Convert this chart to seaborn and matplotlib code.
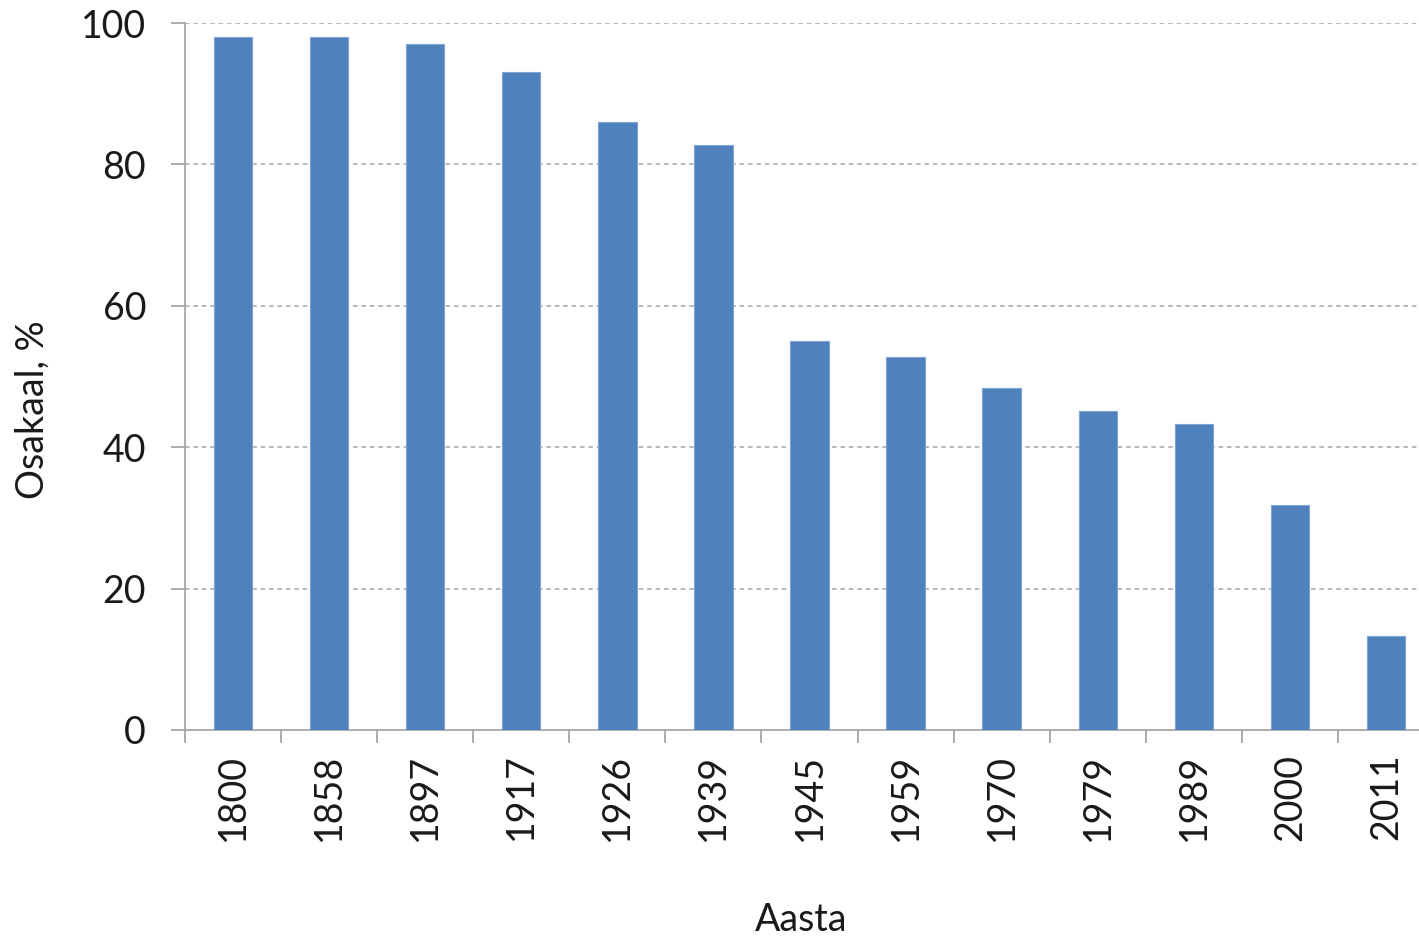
import matplotlib
matplotlib.use("Agg")
import matplotlib.pyplot as plt
import seaborn as sns
import numpy as np
import pandas as pd

years = ["1800", "1858", "1897", "1917", "1926", "1939", "1945", "1959", "1970", "1979", "1989", "2000", "2011"]
shares = [98, 98, 97, 93, 86, 82.7, 55, 52.8, 48.4, 45.1, 43.3, 31.8, 13.3]
y_ticks = [0, 20, 40, 60, 80, 100]

sns.set_theme(style="white")
plt.rcParams['font.family'] = ['Lato', 'DejaVu Sans']

df = pd.DataFrame({"Aasta": years, "Osakaal": shares})

fig = plt.figure(figsize=(14.19, 9.38), dpi=100)
W, H = 1419, 938
ax = fig.add_axes([185 / W, 1 - 730 / H, (1434 - 185) / W, (730 - 23) / H])

sns.barplot(data=df, x="Aasta", y="Osakaal", color="#4F81BD", saturation=1,
            width=0.4, edgecolor="#7FA3D3", linewidth=0.8, ax=ax, zorder=3)

ax.set_ylim(0, 100)
ax.set_xlim(-0.5, len(years) - 0.5)
ax.set_yticks(y_ticks)
ax.set_yticklabels([str(t) for t in y_ticks], fontsize=27, color="#1a1a1a")
for t in y_ticks[1:]:
    ax.axhline(t, color="#a6a6a6", linestyle=(0, (3, 2.5)), linewidth=1.1, zorder=1)

ax.set_xticks(range(len(years)))
ax.set_xticklabels(years, rotation=90, fontsize=27, color="#1a1a1a")
ax.tick_params(axis="x", which="major", length=0, pad=17)
ax.set_xticks(np.arange(-0.5, len(years), 1.0), minor=True)
ax.tick_params(axis="x", which="minor", length=9, width=1.3, color="#a6a6a6", direction="out", bottom=True)
ax.tick_params(axis="y", which="major", length=10, width=1.3, color="#a6a6a6", direction="out", left=True, pad=18)

for side in ["top", "right"]:
    ax.spines[side].set_visible(False)
for side in ["left", "bottom"]:
    ax.spines[side].set_color("#a6a6a6")
    ax.spines[side].set_linewidth(1.3)

ax.set_xlabel("")
ax.set_ylabel("")
fig.text(33 / W, 1 - 410 / H, "Osakaal, %", rotation=90, ha="center", va="center", fontsize=27, color="#1a1a1a")
fig.text(801 / W, 1 - 920 / H, "Aasta", ha="center", va="center", fontsize=27, color="#1a1a1a")

fig.savefig("out.png", dpi=100)
